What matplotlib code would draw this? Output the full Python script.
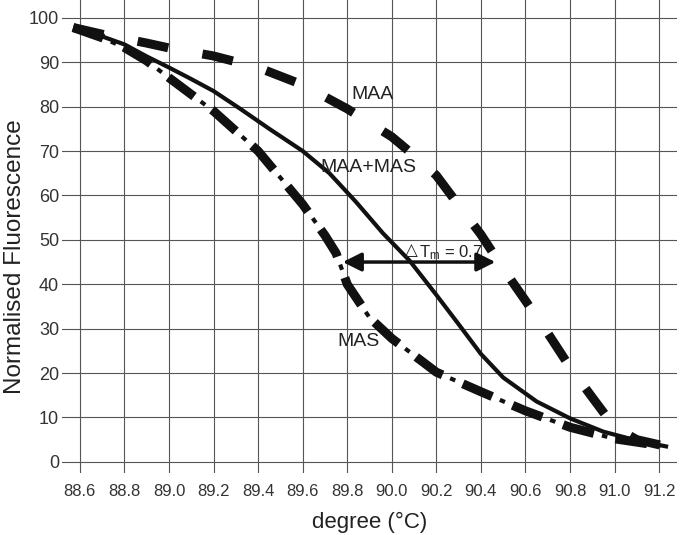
import matplotlib
matplotlib.use('Agg')
import matplotlib.pyplot as plt

plt.rcParams['font.family'] = ['Liberation Sans', 'DejaVu Sans']
plt.rcParams['mathtext.default'] = 'regular'
plt.rcParams['lines.scale_dashes'] = False

# melting curves
mix_x = [88.57, 88.7, 88.8, 88.9, 89.0, 89.1, 89.2, 89.32, 89.45, 89.6, 89.72, 89.84,
         89.96, 90.08, 90.2, 90.3, 90.4, 90.5, 90.65, 90.8, 90.95, 91.1, 91.24]
mix_y = [97.8, 95.8, 94.0, 91.3, 88.8, 86.2, 83.5, 79.5, 75.0, 70.0, 65.0, 58.5,
         51.5, 45.3, 37.6, 31.0, 24.3, 19.0, 13.6, 9.8, 6.8, 4.8, 3.4]

maa_x = [88.57, 88.7, 88.8, 88.9, 89.0, 89.2, 89.4, 89.6, 89.8, 90.0, 90.1, 90.2, 90.3,
         90.4, 90.5, 90.6, 90.7, 90.8, 90.9, 91.0, 91.1, 91.24]
maa_y = [97.8, 96.3, 95.3, 94.3, 93.2, 91.4, 88.8, 84.9, 79.5, 73.2, 69.0, 64.5, 57.8,
         51.2, 43.5, 36.3, 29.0, 21.3, 14.5, 7.8, 5.0, 3.4]

mas_x = [88.57, 88.7, 88.8, 88.9, 89.0, 89.2, 89.4, 89.6, 89.7, 89.75, 89.8, 89.9,
         90.0, 90.2, 90.4, 90.6, 90.8, 91.0, 91.24]
mas_y = [97.8, 95.5, 93.3, 90.3, 86.5, 79.0, 70.0, 58.0, 51.0, 47.0, 40.0, 32.5,
         27.8, 20.2, 15.8, 11.5, 7.8, 5.2, 3.4]

x_ticks = [88.6, 88.8, 89.0, 89.2, 89.4, 89.6, 89.8, 90.0, 90.2, 90.4, 90.6, 90.8, 91.0, 91.2]
y_ticks = [0, 10, 20, 30, 40, 50, 60, 70, 80, 90, 100]

tm_left, tm_right, tm_level = 89.78, 90.465, 45.0

fig = plt.figure(figsize=(6.8, 5.35), dpi=100)
ax = fig.add_axes([62 / 680, 1 - 473 / 535, 615 / 680, 473 / 535])

ax.set_xlim(88.52, 91.28)
ax.set_ylim(-2.5, 104)
ax.set_xticks(x_ticks)
ax.set_xticklabels(['%.1f' % t for t in x_ticks], fontsize=12, color='#333333')
ax.set_yticks(y_ticks)
ax.set_yticklabels([str(t) for t in y_ticks], fontsize=13, color='#333333')
ax.tick_params(length=0)
ax.tick_params(axis='x', pad=8)
ax.tick_params(axis='y', pad=2)
for s in ax.spines.values():
    s.set_visible(False)
ax.grid(True, color='#555555', linewidth=0.8)
ax.set_axisbelow(True)

# MAA+MAS solid
ax.plot(mix_x, mix_y, color='#111111', lw=3, solid_capstyle='butt', zorder=3)
# MAA dashed
ax.plot(maa_x, maa_y, color='#111111', lw=6.5, dashes=(22.5, 25), dash_capstyle='butt', zorder=3)
# MAS dash-dot: thick dashes plus thin dots in the gaps
ax.plot(mas_x, mas_y, color='#111111', lw=6.5, dashes=(23, 16), dash_capstyle='butt', zorder=3)
ax.plot(mas_x, mas_y, color='#111111', lw=3, linestyle=(10, (4, 35)), dash_capstyle='butt', zorder=3)

ax.annotate('', xy=(tm_right, tm_level), xytext=(tm_left, tm_level),
            arrowprops=dict(arrowstyle='<|-|>', mutation_scale=28, lw=2.5,
                            color='#111111', shrinkA=0, shrinkB=0), zorder=4)

ax.text(89.912, 82.7, 'MAA', fontsize=14, ha='center', va='center', color='#222222')
ax.text(89.894, 66.3, 'MAA+MAS', fontsize=14, ha='center', va='center', color='#222222')
ax.text(89.85, 27.0, 'MAS', fontsize=14, ha='center', va='center', color='#222222')
ax.text(90.06, 47.6, '△', fontsize=12, ha='left', va='center', color='#222222',
        family=['DejaVu Sans'])
ax.text(90.124, 47.2, 'T$_m$ = 0.7', fontsize=12, ha='left', va='center', color='#222222')

ax.set_xlabel('degree (°C)', fontsize=16, labelpad=9, color='#222222')
ax.set_ylabel('Normalised Fluorescence', fontsize=17.5, color='#222222')
ax.yaxis.set_label_coords(-0.058, 0.457)

fig.savefig('out.png', dpi=100)
